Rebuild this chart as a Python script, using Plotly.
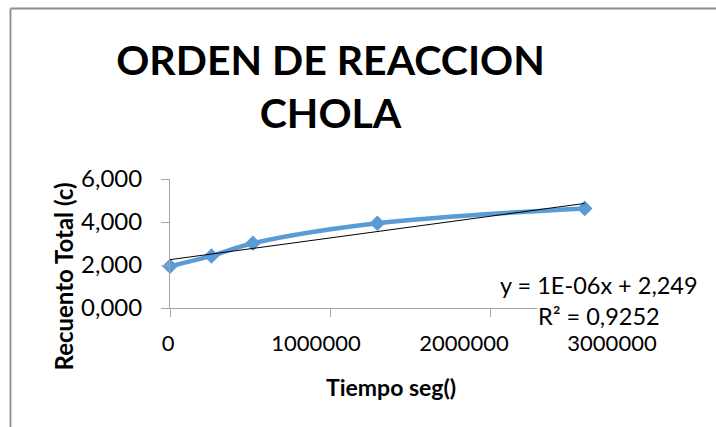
import numpy as np
import plotly.graph_objects as go

# Measurements: elapsed time (s) and total count
tiempo_seg = [0, 259200, 518400, 1296000, 2592000]
recuento_total = [1.944, 2.422, 3.011, 3.942, 4.632]

x_ticks = [0, 1000000, 2000000, 3000000]
y_ticks = [0, 2, 4, 6]

title_lines = ["ORDEN DE REACCION", "CHOLA"]
x_title = "Tiempo seg()"
y_title = "Recuento Total (c)"

# Linear trendline
slope, intercept = np.polyfit(tiempo_seg, recuento_total, 1)
pred = slope * np.array(tiempo_seg) + intercept
y_arr = np.array(recuento_total)
r2 = 1 - np.sum((y_arr - pred) ** 2) / np.sum((y_arr - y_arr.mean()) ** 2)
trend_x = [min(tiempo_seg), max(tiempo_seg)]
trend_y = [slope * v + intercept for v in trend_x]

eq_text = f"y = {slope:.0E}x + {intercept:.3f}".replace(".", ",")
r2_text = f"R² = {r2:.4f}".replace(".", ",")

# Page geometry (pixels)
W, H = 716, 427
L, R, T, B = 170, 650, 179, 308
LM = 150  # left edge of the plotting area used by the label axis


def fx(px):
    return (px - LM) / (R - LM)


def fy(py):
    return (B - py) / (B - T)


FONT = "Lato"
BLUE = "#5B9BD5"
AXIS = "#A6A6A6"

fig = go.Figure()
# Invisible carrier so the tick-label axis gets drawn
fig.add_trace(go.Scatter(
    x=x_ticks, y=[y_ticks[0]] * len(x_ticks), xaxis="x2", yaxis="y",
    mode="markers", marker=dict(opacity=0), hoverinfo="skip",
    showlegend=False,
))
fig.add_trace(go.Scatter(
    x=tiempo_seg, y=recuento_total, mode="lines+markers",
    line=dict(color=BLUE, width=4.5, shape="spline"),
    marker=dict(symbol="diamond", size=12, color=BLUE),
    cliponaxis=False, showlegend=False,
))
fig.add_trace(go.Scatter(
    x=trend_x, y=trend_y, mode="lines",
    line=dict(color="black", width=1),
    cliponaxis=False, showlegend=False,
))

# Tick-label scale: same values, laid out on a slightly tighter scale
lab_px0, lab_px_per_unit = 168, 148e-6
x2_range = [(LM - lab_px0) / lab_px_per_unit, (R - lab_px0) / lab_px_per_unit]

fig.update_layout(
    width=W, height=H,
    margin=dict(l=LM, r=W - R, t=T, b=H - B, pad=0),
    paper_bgcolor="white", plot_bgcolor="rgba(0,0,0,0)",
    separators=",.",
    font=dict(family=FONT, color="black", size=22),
    title=dict(
        text="<br>".join(f"<b>{t}</b>" for t in title_lines),
        x=330.5 / W, xanchor="center", xref="container",
        y=1 - 75 / H, yanchor="top", yref="container",
        font=dict(family=FONT, size=41, color="black"),
    ),
    xaxis=dict(
        domain=[(L - LM) / (R - LM), 1],
        range=[0, 3000000], tickvals=x_ticks, showticklabels=False,
        showline=True, linecolor=AXIS, linewidth=1,
        ticks="outside", ticklen=8, tickcolor=AXIS, tickwidth=1,
        showgrid=False, zeroline=False, anchor="y",
    ),
    xaxis2=dict(
        domain=[0, 1], range=x2_range, tickvals=x_ticks,
        ticktext=[str(v) for v in x_ticks],
        showline=False, ticks="", showgrid=False, zeroline=False,
        anchor="y", side="bottom", ticklabelstandoff=20,
        tickfont=dict(family=FONT, size=22, color="black"),
    ),
    yaxis=dict(
        range=[0, 6], tickvals=y_ticks, tickformat=".3f",
        showline=True, linecolor=AXIS, linewidth=1,
        ticks="outside", ticklen=8, tickcolor=AXIS, tickwidth=1,
        showgrid=False, zeroline=False, anchor="x",
        ticklabelstandoff=14,
        tickfont=dict(family=FONT, size=24, color="black"),
    ),
)

# Chart frame (left and top edges)
frame = dict(color="#8C8C8C", width=1.8)
fig.add_shape(type="line", xref="paper", yref="paper",
              x0=fx(10.5), x1=fx(10.5), y0=fy(H + 5), y1=fy(8.5), line=frame)
fig.add_shape(type="line", xref="paper", yref="paper",
              x0=fx(10.5), x1=fx(W + 5), y0=fy(8.5), y1=fy(8.5), line=frame)

fig.add_annotation(text=f"<b>{y_title}</b>", textangle=-90,
                   xref="paper", yref="paper", x=fx(63), y=fy(276.5),
                   xanchor="center", yanchor="middle", showarrow=False,
                   font=dict(family=FONT, size=24, color="black"))
fig.add_annotation(text=f"<b>{x_title}</b>",
                   xref="paper", yref="paper", x=fx(391), y=fy(387),
                   xanchor="center", yanchor="middle", showarrow=False,
                   font=dict(family=FONT, size=23, color="black"))
fig.add_annotation(text=eq_text,
                   xref="paper", yref="paper", x=fx(599), y=fy(285),
                   xanchor="center", yanchor="middle", showarrow=False,
                   font=dict(family=FONT, size=23.5, color="black"))
fig.add_annotation(text=r2_text,
                   xref="paper", yref="paper", x=fx(599), y=fy(316),
                   xanchor="center", yanchor="middle", showarrow=False,
                   bgcolor="white", borderpad=0,
                   font=dict(family=FONT, size=23.5, color="black"))

fig.write_html("out.html")
